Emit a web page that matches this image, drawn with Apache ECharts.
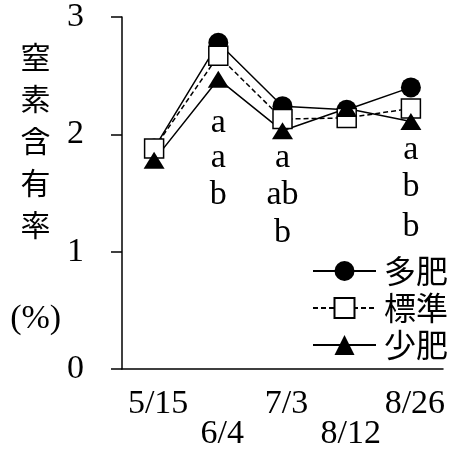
<!DOCTYPE html>
<html>
<head>
<meta charset="utf-8">
<script src="https://cdn.jsdelivr.net/npm/echarts@6/dist/echarts.min.js"></script>
<style>
html,body{margin:0;padding:0;background:#fff;}
#main{width:457px;height:454px;}
</style>
</head>
<body>
<div id="main"></div>
<script>
// 調査日
var categories = ['5/15', '6/4', '7/3', '8/12', '8/26'];
// 窒素含有率 (%)
var tahi = [1.88, 2.78, 2.24, 2.21, 2.40];
var hyojun = [1.88, 2.67, 2.13, 2.14, 2.22];
var shohi = [1.78, 2.47, 2.03, 2.22, 2.11];
// 有意差の文字
var sigCats = ['6/4', '6/4', '6/4', '7/3', '7/3', '7/3', '8/26', '8/26', '8/26'];
var sigText = ['a', 'a', 'b', 'a', 'ab', 'b', 'a', 'b', 'b'];
var sigY = [2.10, 1.80, 1.48, 1.80, 1.48, 1.16, 1.87, 1.55, 1.21];

var latin = '"Liberation Serif", "DejaVu Serif", serif';
var cjk = '"Noto Sans CJK JP", "Liberation Serif", sans-serif';

var myChart = echarts.init(document.getElementById('main'));
var sigData = [];
for (var i = 0; i < sigCats.length; i++) {
    sigData.push({value: [sigCats[i], sigY[i]], name: sigText[i]});
}

var option = {
    animation: false,
    backgroundColor: '#fff',
    grid: {left: 122, right: 14, top: 17, bottom: 85},
    legend: {
        data: ['多肥', '標準', '少肥'],
        orient: 'vertical',
        right: 4,
        top: 250,
        itemWidth: 63,
        itemHeight: 25,
        itemGap: 5,
        textStyle: {fontFamily: cjk, fontSize: 32, color: '#000', padding: [0, 0, 0, 3]}
    },
    xAxis: {
        type: 'category',
        data: categories,
        boundaryGap: true,
        axisLine: {lineStyle: {color: '#000', width: 1.5}},
        axisTick: {alignWithLabel: true, inside: true, length: 9, lineStyle: {color: '#000', width: 1.5}},
        axisLabel: {
            color: '#000',
            fontFamily: latin,
            fontSize: 34,
            lineHeight: 30,
            margin: 20,
            interval: 0,
            padding: [0, 0, 0, 8],
            formatter: function (v, idx) {
                return idx % 2 === 1 ? '\n' + v : v;
            }
        },
        splitLine: {show: false}
    },
    yAxis: {
        type: 'value',
        min: 0,
        max: 3,
        interval: 1,
        name: '窒\n素\n含\n有\n率\n\n{p|(%)}',
        nameLocation: 'middle',
        nameRotate: 0,
        nameGap: 82,
        nameTextStyle: {
            fontFamily: cjk,
            fontSize: 30,
            lineHeight: 42,
            color: '#000',
            align: 'center',
            verticalAlign: 'middle',
            rich: {p: {fontFamily: latin, fontSize: 34, lineHeight: 62, color: '#000'}}
        },
        axisLine: {show: true, lineStyle: {color: '#000', width: 1.5}},
        axisTick: {show: true, length: 11, lineStyle: {color: '#000', width: 1.5}},
        axisLabel: {color: '#000', fontFamily: latin, fontSize: 34, margin: 38},
        splitLine: {show: false}
    },
    series: [
        {
            name: '多肥',
            type: 'line',
            data: tahi,
            symbol: 'circle',
            symbolSize: 20,
            lineStyle: {color: '#000', width: 1.5},
            itemStyle: {color: '#000'}
        },
        {
            name: '標準',
            type: 'line',
            data: hyojun,
            symbol: 'rect',
            symbolSize: 19,
            lineStyle: {color: '#000', width: 1.5, type: [5, 3]},
            itemStyle: {color: '#fff', borderColor: '#000', borderWidth: 1.5}
        },
        {
            name: '少肥',
            type: 'line',
            data: shohi,
            symbol: 'triangle',
            symbolSize: [21, 17],
            lineStyle: {color: '#000', width: 1.5},
            itemStyle: {color: '#000'}
        },
        {
            name: 'sig',
            type: 'scatter',
            data: sigData,
            symbolSize: 0,
            silent: true,
            itemStyle: {opacity: 1, color: '#000'},
            label: {
                show: true,
                position: 'inside',
                formatter: function (p) { return p.name; },
                color: '#000',
                opacity: 1,
                textBorderWidth: 0,
                fontFamily: latin,
                fontSize: 34
            }
        }
    ]
};
myChart.setOption(option);
window.onresize = myChart.resize;
</script>
</body>
</html>
